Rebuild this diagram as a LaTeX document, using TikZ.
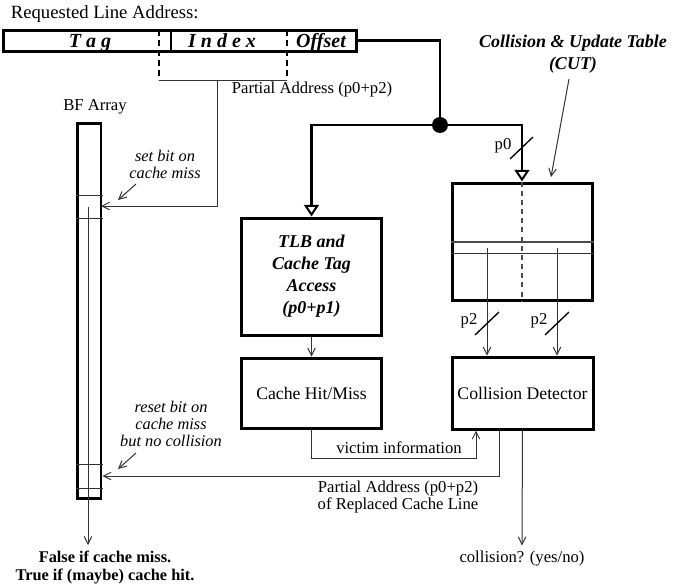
\documentclass[tikz,border=0pt]{standalone}
\usepackage{fontspec}
\setmainfont{Liberation Serif}
\usetikzlibrary{arrows.meta}

\tikzset{
  block/.style={draw, line width=1.8pt, inner sep=0pt, align=center},
  wire/.style={line width=1.3pt},
  thinline/.style={line width=0.6pt, black!80},
  tip/.style={-{Straight Barb[length=4.5pt, width=4.5pt]}},
  opentip/.style={-{Triangle[open, length=7pt, width=9pt, line width=1.2pt]}},
  note/.style={font=\fontsize{9.8}{10.4}\selectfont\itshape, align=center},
  field/.style={font=\fontsize{12}{14}\selectfont\bfseries\itshape},
  bardash/.style={line width=1.5pt, dash pattern=on 3.5pt off 2.5pt},
}

\begin{document}
\begin{tikzpicture}[x=0.6pt, y=-0.6pt, font=\fontsize{10}{12}\selectfont]
    \useasboundingbox (0,0) rectangle (673,587);

    % Address bar
    \node[anchor=west, font=\fontsize{11.2}{13}\selectfont] (reqlabel) at (5,14) {Requested Line Address:};
    \node[block, minimum width=212.4pt, minimum height=12.6pt] (addr) at (180,40.5) {};
    \node[field, anchor=base] (tag) at (90,47) {T a g};
    \node[field, anchor=base] (index) at (222,47) {I n d e x};
    \node[field, anchor=base] (offset) at (321,47) {Offset};
    \draw[bardash] (159,30) -- (159,80);
    \draw[line width=1.2pt] (171,30) -- (171,51);
    \draw[bardash] (287,30) -- (287,80);

    % Partial address to BF array
    \coordinate (pa) at (217,80);
    \coordinate (setrow) at (101,206);
    \draw[thinline] (159,80) -- (287,80);
    \node (palabel) at (312,89) {Partial Address (p0+p2)};

    % Boxes
    \node[block, minimum width=14.4pt, minimum height=225pt] (bf) at (89,310.5) {};
    \node (bflabel) at (95,107) {BF Array};
    \node[block, minimum width=84.6pt, minimum height=70.2pt,
          font=\fontsize{10.8}{13.2}\selectfont\bfseries\itshape] (tlb) at (311.5,276.5)
          {TLB and\\Cache Tag\\Access\\(p0+p1)};
    \node[block, minimum width=84.6pt, minimum height=42pt,
          font=\fontsize{10.6}{12}\selectfont] (hitmiss) at (311.5,393) {Cache Hit/Miss};
    \node[block, minimum width=84.6pt, minimum height=43.2pt,
          font=\fontsize{10.6}{12}\selectfont] (detector) at (522.5,393) {Collision Detector};
    \node[block, minimum width=84pt, minimum height=70.2pt] (cut) at (522,241.5) {};
    \node[font=\fontsize{10.8}{13}\selectfont\bfseries\itshape, align=center] (cuttitle) at (573,54)
          {Collision \& Update Table\\(CUT)};

    % Offset wire and split
    \node[circle, fill, inner sep=0pt, minimum size=9.6pt] (dot) at (440,125) {};
    \draw[wire] (addr.east) -| (dot);
    \draw[wire, opentip] (dot) -| (tlb.north);
    \draw[wire, opentip] (dot) -| (cut.north);
    \draw[line width=0.8pt] (510,159) -- (533,137);
    \node (p0label) at (503,146) {p0};

    % CUT internals
    \draw[line width=1pt, black!70, dash pattern=on 3pt off 2.5pt] (cut.north) -- (cut.south);
    \draw[line width=1pt, black!70] (cut.west |- 0,242) -- (cut.east |- 0,242);
    \draw[thinline] (cut.west |- 0,253) -- (cut.east |- 0,253);
    \coordinate (cutmark) at (551,177);
    \draw[thinline, tip] (569,79) -- (cutmark);

    % CUT to detector
    \coordinate (wayA) at (487,248);
    \coordinate (wayB) at (557,248);
    \draw[thinline, tip] (wayA) -- (wayA |- detector.north);
    \draw[thinline, tip] (wayB) -- (wayB |- detector.north);
    \foreach \x in {0,70} {
        \draw[line width=0.8pt] (475+\x,335) -- (499+\x,312);
        \node at (469+\x,321) {p2};
    }

    % TLB to hit/miss, victim information
    \draw[thinline, tip] (tlb) -- (hitmiss);
    \coordinate (vicend) at (476,458);
    \draw[thinline, tip] (hitmiss.south) |- (vicend) -- (vicend |- detector.south);
    \node (viclabel) at (399,448) {victim information};

    % Replaced line back to BF array
    \coordinate (repl) at (499,476);
    \draw[thinline, tip] (detector.south -| repl) |- (bf.east |- repl);
    \node[align=center, font=\fontsize{10}{10.6}\selectfont] (repllabel) at (398,497)
          {Partial Address (p0+p2)\\of Replaced Cache Line};

    % Collision output
    \node (collout) at (522,559) {collision? (yes/no)};
    \draw[thinline, tip] (detector.south) -- (collout.north);

    % BF array internals
    \foreach \y in {195,218,464,488}
        \draw[thinline] (bf.west |- 0,\y) -- (bf.east |- 0,\y);
    \coordinate (bfin) at (88,207);
    \coordinate (bfout) at (88,545);
    \draw[thinline, tip] (bfin) -- (bfout);
    \node[font=\fontsize{9.8}{10.8}\selectfont\bfseries, align=center] (result) at (105,568)
          {False if cache miss.\\True if (maybe) cache hit.};

    % Set / reset notes
    \draw[thinline, tip] (pa) |- (setrow);
    \node[note] (setnote) at (165,164.5) {set bit on\\cache miss};
    \draw[thinline, tip] (136,184) -- (118,200);
    \node[note] (resetnote) at (171,424) {reset bit on\\cache miss\\but no collision};
    \draw[thinline, tip] (136,453) -- (118,469);
\end{tikzpicture}
\end{document}
